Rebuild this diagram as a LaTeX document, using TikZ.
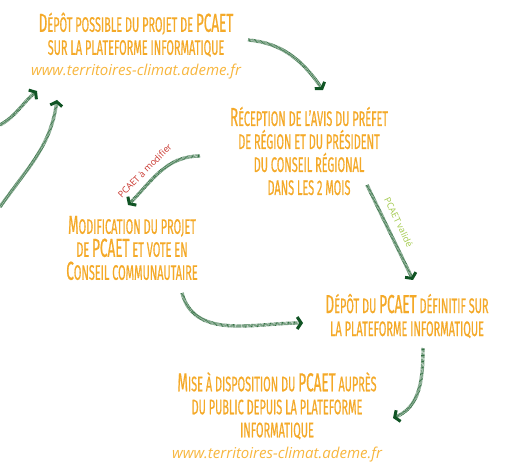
\documentclass[tikz,border=0pt]{standalone}
\usepackage{fontspec}
\newfontfamily\etapefont[FakeStretch=0.52,FakeBold=0.6]{Fira Sans}
\newfontfamily\urlfont{Open Sans}
\usetikzlibrary{arrows.meta, positioning}
\definecolor{pcaetorange}{RGB}{244,169,40}
\definecolor{urlorange}{RGB}{247,182,62}
\definecolor{flechevert}{RGB}{52,112,68}
\definecolor{pointevert}{RGB}{16,84,36}
\definecolor{modifrouge}{RGB}{200,52,44}
\definecolor{validevert}{RGB}{160,200,72}
\tikzset{
    etape/.style={align=center, inner sep=0pt, text=pcaetorange, font=\etapefont\fontsize{21}{23}\selectfont},
    lien/.style={line width=3.4pt, draw=flechevert, dash pattern=on 0.6pt off 0.6pt, -{Straight Barb[length=4pt, width=12pt, line width=3pt, color=pointevert]}},
    lienlabel/.style={font=\urlfont\fontsize{9}{10}\selectfont, sloped, inner sep=0pt}
}
\newcommand{\grand}[1]{{\fontsize{26}{23}\selectfont #1}}
\newcommand{\siteademe}{{\urlfont\itshape\fontsize{15}{15}\selectfont\color{urlorange}www.territoires-climat.ademe.fr}}

\begin{document}
\begin{tikzpicture}[x=1pt, y=1pt]
    \useasboundingbox (0,0) rectangle (524,474);

    % -----------------------------------------------------------------
    % ETAPES
    % -----------------------------------------------------------------
    \node[etape] (depot) at (136,428) {\grand{D}ÉPÔT POSSIBLE DU PROJET DE \grand{PCAET}\\SUR LA PLATEFORME INFORMATIQUE\\[-2pt]\siteademe};
    \node[etape] (avis) at (309,323) {\grand{R}ÉCEPTION DE L’AVIS DU PRÉFET\\DE RÉGION ET DU PRÉSIDENT\\DU CONSEIL RÉGIONAL\\DANS LES 2 MOIS};
    \node[etape] (modif) at (132,226) {\grand{M}ODIFICATION DU PROJET\\DE \grand{PCAET} ET VOTE EN\\\grand{C}ONSEIL COMMUNAUTAIRE};
    \node[etape] (definitif) at (407,158) {\grand{D}ÉPÔT DU \grand{PCAET} DÉFINITIF SUR\\LA PLATEFORME INFORMATIQUE};
    \node[etape] (public) at (277,57) {\grand{M}ISE À DISPOSITION DU \grand{PCAET} AUPRÈS\\DU PUBLIC DEPUIS LA PLATEFORME\\INFORMATIQUE\\[-2pt]\siteademe};

    % extremites libres (etapes precedentes hors cadre)
    \coordinate (amont1) at (0,349);
    \coordinate (amont2) at (0,267);

    % -----------------------------------------------------------------
    % FLECHES
    % -----------------------------------------------------------------
    \draw[lien] ([shift={(112,6)}]depot.center) to[out=-5, in=125] ([shift={(14,61)}]avis.center);
    \draw[lien] ([shift={(-109,-5)}]avis.center) to[out=180, in=45]
        node[lienlabel, above=6pt, pos=0.62, text=modifrouge] {PCAET à modifier} ([shift={(-4,43)}]modif.center);
    \draw[lien] ([shift={(58,-34)}]avis.center) --
        node[lienlabel, above=7pt, pos=0.45, text=validevert] {PCAET validé} ([shift={(6,36)}]definitif.center);
    \draw[lien] ([shift={(50,-45)}]modif.center) to[out=-75, in=180] ([shift={(-104,-7)}]definitif.center);
    \draw[lien] ([shift={(16,-32)}]definitif.center) to[out=-90, in=22] ([shift={(116,-1)}]public.center);
    \draw[lien] (amont1) to[out=30, in=220] ([shift={(-99,-45)}]depot.center);
    \draw[lien] (amont2) to[out=55, in=262] ([shift={(-79,-54)}]depot.center);

\end{tikzpicture}
\end{document}
